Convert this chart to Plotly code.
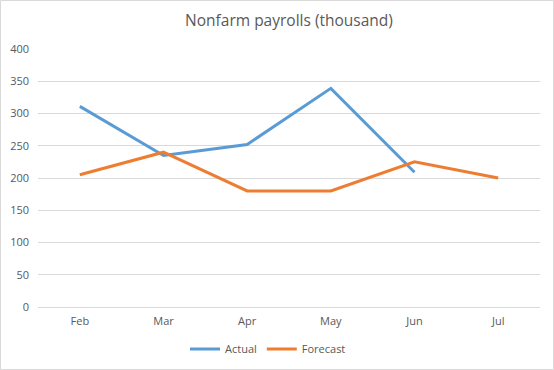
import plotly.graph_objects as go

months = ["Feb", "Mar", "Apr", "May", "Jun", "Jul"]
actual = [311, 235, 252, 339, 209, None]
forecast = [205, 240, 180, 180, 225, 200]
y_ticks = [0, 50, 100, 150, 200, 250, 300, 350, 400]

W, H = 554, 370
L, R, T, B = 38, 14, 49, 63
pw, ph = W - L - R, H - T - B

fig = go.Figure()
fig.add_trace(go.Scatter(x=months, y=actual, name="Actual", mode="lines",
                         line=dict(color="#5B9BD5", width=3), connectgaps=False))
fig.add_trace(go.Scatter(x=months, y=forecast, name="Forecast", mode="lines",
                         line=dict(color="#ED7D31", width=3)))

font = "Open Sans, Liberation Sans, sans-serif"
fig.update_layout(
    width=W, height=H,
    margin=dict(l=L, r=R, t=T, b=B, autoexpand=False),
    paper_bgcolor="white", plot_bgcolor="white",
    title=dict(text="Nonfarm payrolls (thousand)", x=0.5, xref="paper", yref="container",
               y=1 - 21/H, yanchor="middle", automargin=False,
               font=dict(family=font, size=15.5, color="#595959")),
    font=dict(family=font, size=11, color="#595959"),
    showlegend=True,
    legend=dict(orientation="h", x=(268 - L) / pw, xanchor="center", xref="paper",
                yref="container", y=1 - 349/H, yanchor="middle",
                font=dict(size=11, color="#595959"),
                itemwidth=30, tracegroupgap=0),
    xaxis=dict(type="category", showgrid=False, showline=True, linecolor="#d9d9d9",
               ticks="", tickfont=dict(size=11, color="#595959"), range=[-0.5, 5.5],
               ticklabelstandoff=4, automargin=False),
    yaxis=dict(range=[0, 400], tickvals=y_ticks, showgrid=True, gridcolor="#d9d9d9",
               gridwidth=1, zeroline=False, showline=False, ticks="",
               tickfont=dict(size=11, color="#595959"), ticklabelstandoff=8, automargin=False),
    shapes=[dict(type="rect", xref="paper", yref="paper",
                 x0=(0.5 - L) / pw, x1=(W - 0.5 - L) / pw,
                 y0=(307 - (H - 0.5)) / ph, y1=(307 - 0.5) / ph,
                 line=dict(color="#d9d9d9", width=1), fillcolor="rgba(0,0,0,0)", layer="below")],
)
fig.write_html("out.html", config={"displayModeBar": False},
               post_script="document.body.style.margin='0';")
